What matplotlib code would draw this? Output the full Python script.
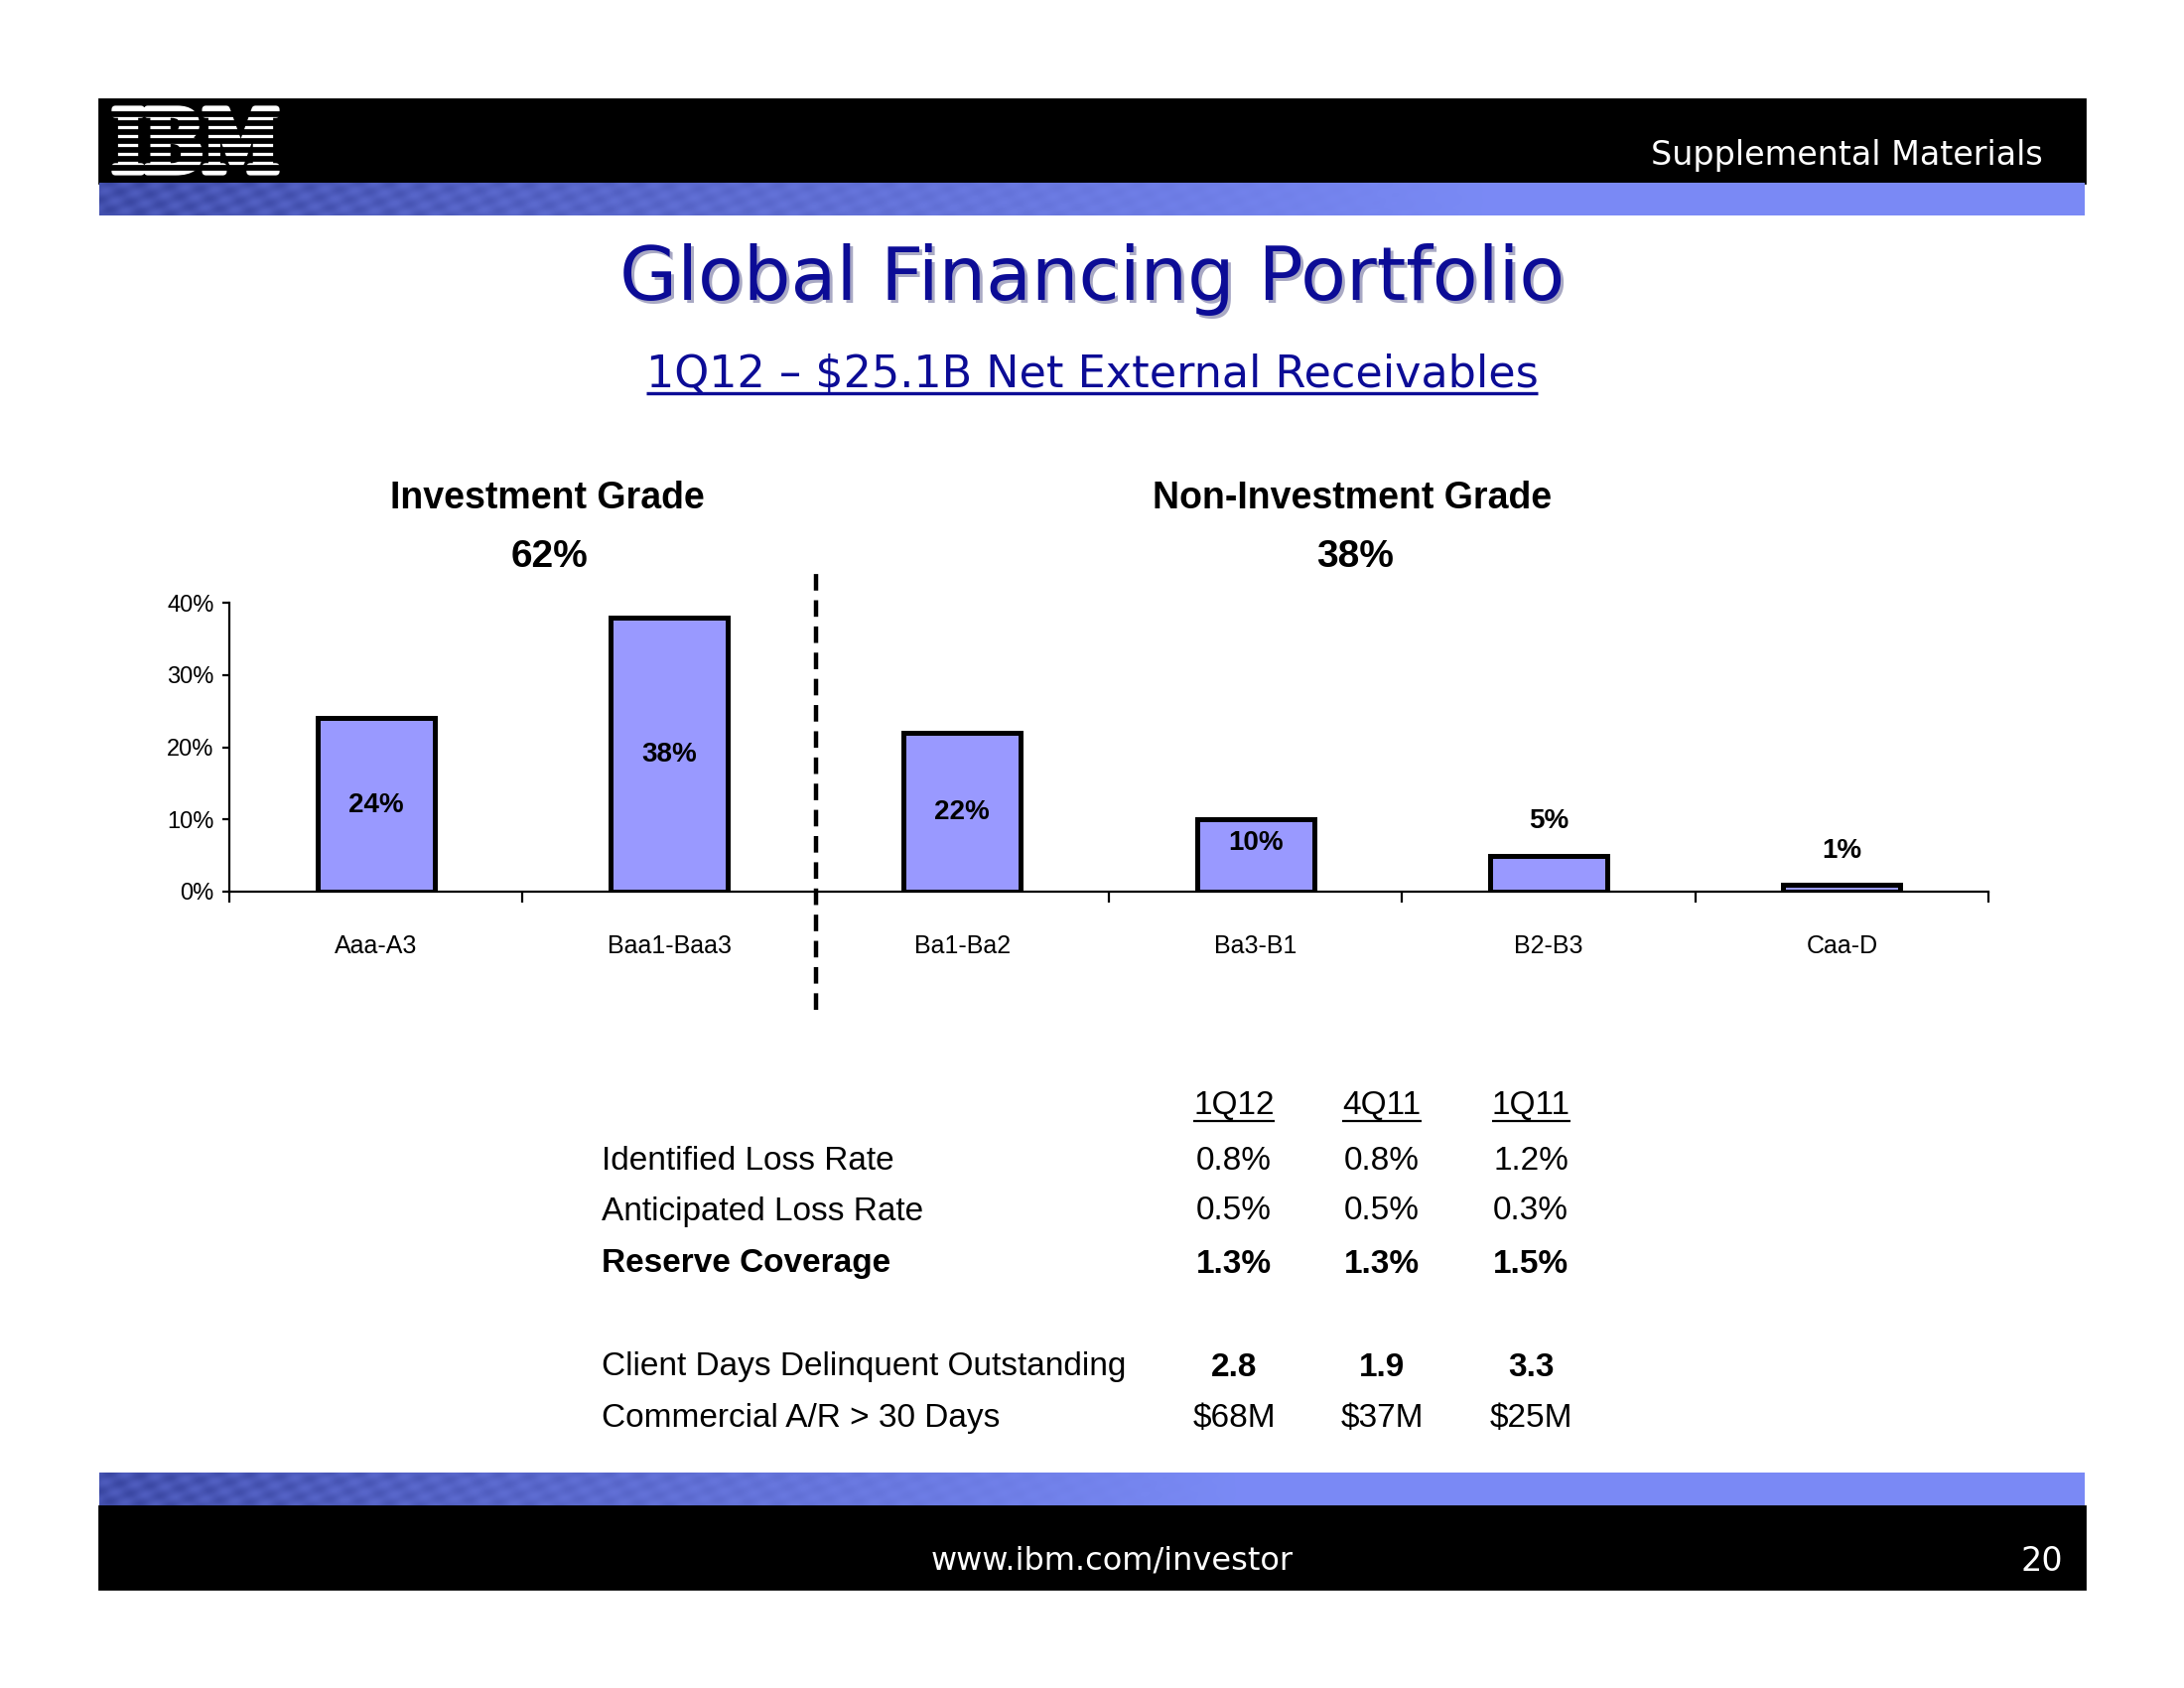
import numpy as np
import matplotlib
matplotlib.use("Agg")
from matplotlib import pyplot as plt
from matplotlib.colors import LinearSegmentedColormap
from matplotlib.textpath import TextPath
from matplotlib.patches import PathPatch, Rectangle
from matplotlib.font_manager import FontProperties
import matplotlib.transforms as mtransforms

plt.rcParams["lines.scale_dashes"] = False

# chart data
ratings = ["Aaa-A3", "Baa1-Baa3", "Ba1-Ba2", "Ba3-B1", "B2-B3", "Caa-D"]
shares = [24, 38, 22, 10, 5, 1]
groups = ["Investment Grade", "Non-Investment Grade"]
group_shares = [62, 38]

# table data
periods = ["1Q12", "4Q11", "1Q11"]
identified_loss = [0.8, 0.8, 1.2]
anticipated_loss = [0.5, 0.5, 0.3]
reserve_coverage = [1.3, 1.3, 1.5]
days_delinquent = [2.8, 1.9, 3.3]
commercial_ar = [68, 37, 25]

narrow = ["Liberation Sans Narrow", "Liberation Sans", "DejaVu Sans"]
arial = ["Liberation Sans", "DejaVu Sans"]
tahoma = ["DejaVu Sans"]
navy = "#0c0c96"

fig = plt.figure(figsize=(11, 8.5), dpi=200)
page = fig.add_axes([0, 0, 1, 1])
page.set_xlim(0, 2200)
page.set_ylim(1700, 0)
page.axis("off")


def band(y0, y1, solid_from):
    # textured blue strip, fading to a flat periwinkle on the right
    xs = np.arange(100, 2100)
    ys = np.arange(y0, y1)
    X, Y = np.meshgrid(xs, ys)
    t = np.clip((X - 100) / (solid_from - 100), 0, 1)
    dots = 0.5 + 0.5 * np.sin(X / 5.0 + Y / 9.0) * np.sin(Y / 3.0 - X / 40.0)
    val = 0.25 + 0.75 * t + 0.25 * dots * (1 - t) - 0.1 * (1 - t)
    cmap = LinearSegmentedColormap.from_list("b", ["#2e3a92", "#5563c6", "#7a8af5"])
    page.imshow(np.clip(val, 0, 1), cmap=cmap, vmin=0, vmax=1, aspect="auto",
                extent=[100, 2100, y1, y0], interpolation="bilinear", zorder=1)


# header
page.add_patch(Rectangle((100, 100), 2000, 84, color="black", zorder=1))
band(184, 217, 1500)
page.text(2058, 156, "Supplemental Materials", color="white", fontsize=12,
          family=tahoma, ha="right", va="center", zorder=3)

# IBM striped logo
tp = TextPath((0, 0), "IBM", size=1, prop=FontProperties(family="DejaVu Serif", weight="bold"))
bb = tp.get_extents()
lx0, lx1, ly0, ly1 = 116, 278, 110, 173
logo_tr = (mtransforms.Affine2D().translate(-bb.x0, -bb.y0)
           .scale((lx1 - lx0) / bb.width, -(ly1 - ly0) / bb.height)
           .translate(lx0, ly1))
page.add_patch(PathPatch(logo_tr.transform_path(tp), facecolor="white", edgecolor="white",
                         linewidth=2.6, joinstyle="round", zorder=3))
ly0, ly1 = 107, 176
bar_h = (ly1 - ly0) / (8 + 7 * 0.4)
gap_h = 0.4 * bar_h
for i in range(7):
    page.add_patch(Rectangle((lx0 - 10, ly0 + (i + 1) * bar_h + i * gap_h), lx1 - lx0 + 20, gap_h,
                             color="black", zorder=4))

# footer
band(1483, 1517, 1250)
page.add_patch(Rectangle((100, 1517), 2000, 83, color="black", zorder=1))
page.text(1120, 1572, "www.ibm.com/investor", color="white", fontsize=11.5,
          family=tahoma, ha="center", va="center", zorder=3)
page.text(2078, 1572, "20", color="white", fontsize=12, family=tahoma,
          ha="right", va="center", zorder=3)

# titles
page.text(1103, 284, "Global Financing Portfolio", color="#a9a9c4", fontsize=27,
          family=tahoma, ha="center", va="center", zorder=2)
page.text(1100, 281, "Global Financing Portfolio", color=navy, fontsize=27,
          family=tahoma, ha="center", va="center", zorder=3)
subtitle = page.text(1100, 377, "1Q12 \u2013 $25.1B Net External Receivables", color=navy,
                     fontsize=16, family=tahoma, ha="center", va="center", zorder=3)

# group headers
for name, pct, cx in zip(groups, group_shares, [551, 1362]):
    page.text(cx, 502, name, fontsize=13.5, family=narrow, weight="bold",
              ha="center", va="center")
    page.text(cx + 3, 561, f"{pct}%", fontsize=14, family=narrow, weight="bold",
              ha="center", va="center")

# bar chart
ax = fig.add_axes([231 / 2200, 1 - 898 / 1700, (2003 - 231) / 2200, (898 - 607) / 1700])
ax.patch.set_alpha(0)
x = np.arange(len(ratings))
ax.bar(x, shares, width=0.4, color="#9999ff", edgecolor="black", linewidth=1.8, zorder=3)
for xi, v in zip(x, shares):
    if v >= 20:
        ly = v / 2
    elif v >= 10:
        ly = v - 3.3
    else:
        ly = v + 4.7
    ax.text(xi, ly, f"{v}%", ha="center", va="center", fontsize=10,
            family=narrow, weight="bold", zorder=4)

ax.set_xlim(-0.5, len(ratings) - 0.5)
ax.set_ylim(0, 40)
ax.set_yticks([0, 10, 20, 30, 40])
ax.set_yticklabels([f"{t}%" for t in [0, 10, 20, 30, 40]], family=narrow, fontsize=8.5)
ax.set_xticks(x)
ax.set_xticklabels(ratings, family=narrow, fontsize=9)
ax.set_xticks(np.arange(-0.5, len(ratings)), minor=True)
ax.tick_params(axis="x", which="major", length=0, pad=15.5)
ax.tick_params(axis="x", which="minor", length=4, width=0.8, direction="out")
ax.tick_params(axis="y", length=2.5, width=0.8, pad=3)
for s in ["top", "right"]:
    ax.spines[s].set_visible(False)
for s in ["left", "bottom"]:
    ax.spines[s].set_linewidth(0.8)
ax.axvline(1.5, ymin=-0.41, ymax=1.12, color="black", linewidth=1.6,
           dashes=(6, 3.5), clip_on=False, zorder=5)

# metrics table
col_x = [1243, 1392, 1542]
headers = []
for px, p in zip(col_x, periods):
    headers.append(page.text(px, 1114, p, fontsize=12, family=arial, ha="center", va="center"))

rows = [
    ("Identified Loss Rate", [f"{v:.1f}%" for v in identified_loss], "normal", "normal", 1170),
    ("Anticipated Loss Rate", [f"{v:.1f}%" for v in anticipated_loss], "normal", "normal", 1220),
    ("Reserve Coverage", [f"{v:.1f}%" for v in reserve_coverage], "bold", "bold", 1273),
    ("Client Days Delinquent Outstanding", [f"{v:.1f}" for v in days_delinquent], "normal", "bold", 1377),
    ("Commercial A/R > 30 Days", [f"${v}M" for v in commercial_ar], "normal", "normal", 1428),
]
for label, vals, lw, vw, ry in rows:
    page.text(606, ry, label, fontsize=12, family=arial, weight=lw, ha="left", va="center")
    for px, v in zip(col_x, vals):
        page.text(px, ry, v, fontsize=12, family=arial, weight=vw, ha="center", va="center")

# underlines
fig.canvas.draw()
renderer = fig.canvas.get_renderer()
inv = page.transData.inverted()
for t, yy, lwid, col in [(subtitle, 396, 1.2, navy)] + [(h, 1129, 0.8, "black") for h in headers]:
    ext = t.get_window_extent(renderer)
    (x0, _), (x1, _) = inv.transform([[ext.x0, ext.y0], [ext.x1, ext.y1]])
    page.plot([x0, x1], [yy, yy], color=col, linewidth=lwid, solid_capstyle="butt")
page.set_xlim(0, 2200)
page.set_ylim(1700, 0)

fig.savefig("out.png", dpi=200)
